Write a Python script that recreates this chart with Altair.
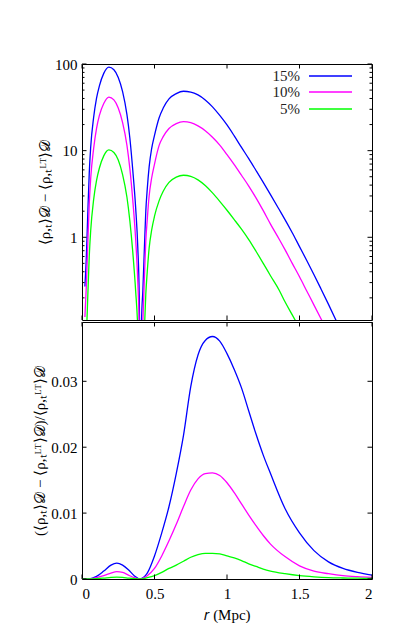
import altair as alt
import pandas as pd

series = ["15%", "10%", "5%"]
colors = ["#0000ff", "#ff00ff", "#00ff00"]

# ---- top panel (log scale) ----
r_top = [0.02, 0.03, 0.04, 0.05, 0.06, 0.08, 0.10, 0.12, 0.15, 0.185,
         0.22, 0.25, 0.28, 0.31, 0.33, 0.35, 0.37, 0.385, 0.395, 0.403,
         0.41, 0.42, 0.433, 0.44, 0.45, 0.463, 0.48, 0.50, 0.532, 0.56,
         0.60, 0.65, 0.70, 0.75, 0.80, 0.85, 0.90, 0.95, 1.00, 1.05,
         1.10, 1.15, 1.20, 1.25, 1.30, 1.36, 1.40, 1.45, 1.50, 1.55,
         1.60, 1.65, 1.70, 1.75, 1.80]
blue_top = [0.27, 0.6, 1.9, 5.5, 11, 24, 40, 56, 78, 92,
            86, 70, 48, 26, 14, 6.0, 2.2, 0.75, 0.2, 0.005,
            0.1, 0.25, 1.0, 2.0, 3.6, 6.5, 10.5, 15, 24, 31,
            39.5, 45.5, 48.5, 47.5, 44, 38.5, 32, 25.5, 19.8, 14.8,
            10.9, 8.07, 5.9, 4.3, 3.11, 2.09, 1.6, 1.13, 0.78, 0.54,
            0.37, 0.25, 0.168, 0.112, 0.074]
magenta_top = [0.12, 0.28, 0.85, 2.4, 4.8, 10.5, 18, 25.5, 35, 41.5,
               38.5, 31, 21, 11.5, 6.2, 2.7, 0.95, 0.3, 0.08, 0.002,
               0.04, 0.11, 0.45, 0.9, 1.6, 3.0, 4.8, 7.0, 11.5, 14.5,
               18, 20.5, 21.6, 21, 19.3, 17, 14.3, 11.6, 9.0, 6.9,
               5.2, 3.9, 2.85, 2.03, 1.42, 0.95, 0.72, 0.5, 0.35, 0.24,
               0.165, 0.113, 0.077, 0.052, 0.035]
green_top = [0.03, 0.07, 0.21, 0.6, 1.2, 2.7, 4.5, 6.3, 8.7, 10.2,
             9.5, 7.8, 5.3, 2.9, 1.55, 0.68, 0.24, 0.085, 0.02, 0.0005,
             0.01, 0.03, 0.11, 0.22, 0.4, 0.75, 1.2, 1.75, 2.65, 3.4,
             4.3, 4.95, 5.2, 5.05, 4.6, 3.95, 3.25, 2.6, 2.05, 1.6,
             1.24, 0.94, 0.69, 0.50, 0.36, 0.245, 0.18, 0.127, 0.09, 0.063,
             0.044, 0.03, 0.02, 0.014, 0.009]

# ---- bottom panel (linear) ----
r_bot = [0.0, 0.05, 0.1, 0.15, 0.2, 0.24, 0.28, 0.32, 0.36, 0.4,
         0.45, 0.5, 0.55, 0.6, 0.65, 0.7, 0.75, 0.8, 0.85, 0.9,
         0.95, 1.0, 1.05, 1.1, 1.15, 1.2, 1.25, 1.3, 1.4, 1.5,
         1.6, 1.7, 1.8, 1.9, 2.0]
blue_bot = [0, 0.00002, 0.0004, 0.0012, 0.0021, 0.0024, 0.0021, 0.0014, 0.0005, 0.00003,
            0.0009, 0.0035, 0.0070, 0.0110, 0.0160, 0.0218, 0.0292, 0.0340, 0.0362, 0.0368,
            0.0361, 0.0342, 0.0318, 0.0290, 0.0255, 0.0220, 0.0188, 0.0160, 0.0107, 0.0070,
            0.0043, 0.0026, 0.0016, 0.0010, 0.0006]
magenta_bot = [0, 0.00001, 0.0002, 0.0005, 0.0009, 0.00112, 0.0010, 0.0006, 0.0002, 0.00001,
               0.0005, 0.0016, 0.0035, 0.0058, 0.0083, 0.0110, 0.0135, 0.0152, 0.0160, 0.0161,
               0.0157, 0.0146, 0.0131, 0.0114, 0.0097, 0.0081, 0.0066, 0.0053, 0.0034, 0.0020,
               0.0012, 0.0008, 0.0005, 0.00035, 0.00026]
green_bot = [0, 0, 0.00005, 0.00014, 0.00024, 0.00028, 0.00024, 0.00014, 0.00005, 0,
             0.0002, 0.0005, 0.0010, 0.0016, 0.0021, 0.0027, 0.0033, 0.0037, 0.0039, 0.0039,
             0.0038, 0.0035, 0.0032, 0.0028, 0.0023, 0.0019, 0.0015, 0.0012, 0.0008, 0.0005,
             0.00032, 0.0002, 0.00015, 0.00012, 0.0001]

x_major = [0, 0.5, 1, 1.5, 2]
ytop_major = [1, 10, 100]
ytop_minor = [0.2, 0.3, 0.4, 0.5, 0.6, 0.7, 0.8, 0.9,
              2, 3, 4, 5, 6, 7, 8, 9,
              20, 30, 40, 50, 60, 70, 80, 90]
ybot_major = [0, 0.01, 0.02, 0.03]

title_top = "⟨ρ,ₜ⟩𝒟 − ⟨ρ,ₜᴸᵀ⟩𝒟"
title_bot = "(⟨ρ,ₜ⟩𝒟 − ⟨ρ,ₜᴸᵀ⟩𝒟)/⟨ρ,ₜᴸᵀ⟩𝒟"
title_x = "𝑟 (Mpc)"


def long(r, vals_list):
    rows = []
    for s, vals in zip(series, vals_list):
        for x, v in zip(r, vals):
            rows.append({"r": x, "v": v, "s": s})
    return pd.DataFrame(rows)


df_top = long(r_top, [blue_top, magenta_top, green_top])
df_bot = long(r_bot, [blue_bot, magenta_bot, green_bot])

W, H1, H2 = 290, 256, 257
TL, TLm = 4.5, 2.5
FONT = "Liberation Serif"
FS = 15

xscale = alt.Scale(domain=[0, 2], nice=False, zero=False)
ytop_scale = alt.Scale(type="log", domain=[0.111, 100], nice=False)
ybot_scale = alt.Scale(domain=[0, 0.039], nice=False, zero=False)
color_scale = alt.Scale(domain=series, range=colors)


def y_axis(values, title, tx, H):
    return alt.Axis(values=values, format="~g", ticks=False, domain=False, grid=False,
                    labelFont=FONT, labelFontSize=FS, labelPadding=5, labelColor="black",
                    title=title, titleX=tx, titleY=H / 2, titleAngle=270,
                    titleAlign="center", titleBaseline="middle",
                    titleFont=FONT, titleFontSize=FS, titleFontWeight="normal",
                    titleColor="black")


x_axis_top = alt.Axis(values=x_major, labels=False, ticks=False, domain=False,
                      grid=False, title=None)
x_axis_bot = alt.Axis(values=x_major, format="~g", ticks=False, domain=False, grid=False,
                      labelFont=FONT, labelFontSize=FS, labelPadding=7, labelColor="black",
                      title=title_x, titleFont=FONT, titleFontSize=FS,
                      titleFontWeight="normal", titleColor="black", titlePadding=6)
y_axis_top = y_axis(ytop_major, title_top, -38, H1)
y_axis_bot = y_axis(ybot_major, title_bot, -43, H2)


def tick_layers(yscale, yaxis, xaxis, ymaj, ymin, H):
    layers = []
    dfx = pd.DataFrame({"t": x_major})
    for y0, y1 in [(0, TL), (H, H - TL)]:
        layers.append(alt.Chart(dfx).mark_rule(color="black", strokeWidth=1).encode(
            x=alt.X("t:Q", scale=xscale, axis=xaxis),
            y=alt.value(y0), y2=alt.value(y1)))
    for vals, L in [(ymaj, TL), (ymin, TLm)]:
        if not vals:
            continue
        dfy = pd.DataFrame({"t": vals})
        for x0, x1 in [(0, L), (W, W - L)]:
            layers.append(alt.Chart(dfy).mark_rule(color="black", strokeWidth=1).encode(
                y=alt.Y("t:Q", scale=yscale, axis=yaxis),
                x=alt.value(x0), x2=alt.value(x1)))
    return layers


top_lines = alt.Chart(df_top).mark_line(clip=True, strokeWidth=1.3, interpolate="monotone").encode(
    x=alt.X("r:Q", scale=xscale, axis=x_axis_top),
    y=alt.Y("v:Q", scale=ytop_scale, axis=y_axis_top),
    color=alt.Color("s:N", scale=color_scale, legend=None),
)

legend_layers = []
leg_y = [12, 28, 45]
for lab, col, ly in zip(series, colors, leg_y):
    legend_layers.append(alt.Chart(pd.DataFrame({"a": [0]})).mark_text(
        align="right", baseline="middle", font=FONT, fontSize=FS, color="#222").encode(
        x=alt.value(218), y=alt.value(ly), text=alt.value(lab)))
    legend_layers.append(alt.Chart(pd.DataFrame({"a": [0]})).mark_rule(
        color=col, strokeWidth=1.3).encode(
        x=alt.value(227), x2=alt.value(270), y=alt.value(ly)))

top = alt.layer(top_lines,
                *tick_layers(ytop_scale, y_axis_top, x_axis_top, ytop_major, ytop_minor, H1),
                *legend_layers).properties(width=W, height=H1)

bot_lines = alt.Chart(df_bot).mark_line(clip=True, strokeWidth=1.3, interpolate="monotone").encode(
    x=alt.X("r:Q", scale=xscale, axis=x_axis_bot),
    y=alt.Y("v:Q", scale=ybot_scale, axis=y_axis_bot),
    color=alt.Color("s:N", scale=color_scale, legend=None),
)

bottom = alt.layer(bot_lines,
                   *tick_layers(ybot_scale, y_axis_bot, x_axis_bot, ybot_major, [], H2)
                   ).properties(width=W, height=H2)

chart = alt.vconcat(top, bottom, spacing=0).properties(
    padding={"left": 23, "top": 48, "right": 5, "bottom": 5}
).configure_view(stroke="black", strokeWidth=1)

chart.save("out.html", embed_options={"renderer": "svg", "actions": False})
